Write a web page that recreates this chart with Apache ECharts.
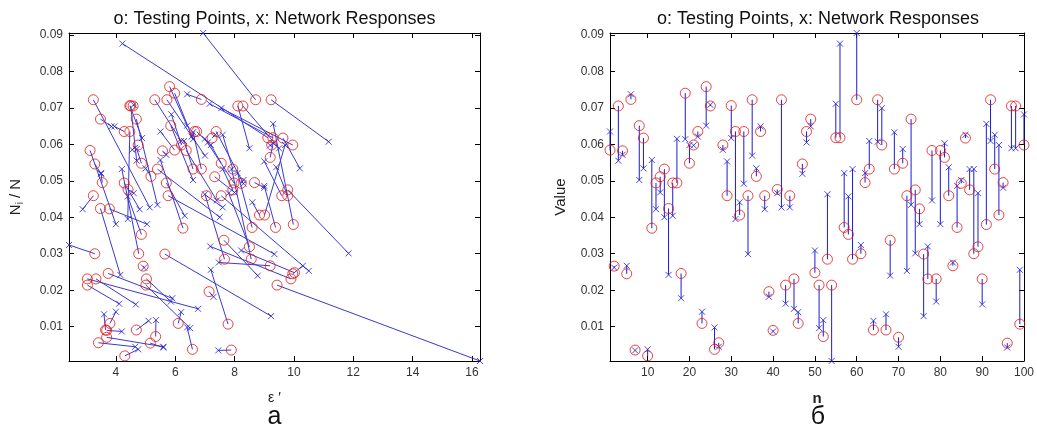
<!DOCTYPE html>
<html>
<head>
<meta charset="utf-8">
<script src="https://cdn.jsdelivr.net/npm/echarts@6/dist/echarts.min.js"></script>
<style>
  html, body { margin: 0; padding: 0; background: #fff; }
  #chart { width: 1037px; height: 432px; }
</style>
</head>
<body>
<div id="chart"></div>
<script>
// Sample index of each testing point
const sampleIndex = [
  1, 2, 3, 4, 5, 6, 7, 8, 9, 10, 11, 12, 13, 14, 15, 16, 17, 18, 19, 20,
  21, 22, 23, 24, 25, 26, 27, 28, 29, 30, 31, 32, 33, 34, 35, 36, 37, 38, 39, 40,
  41, 42, 43, 44, 45, 46, 47, 48, 49, 50, 51, 52, 53, 54, 55, 56, 57, 58, 59, 60,
  61, 62, 63, 64, 65, 66, 67, 68, 69, 70, 71, 72, 73, 74, 75, 76, 77, 78, 79, 80,
  81, 82, 83, 84, 85, 86, 87, 88, 89, 90, 91, 92, 93, 94, 95, 96, 97, 98, 99, 100
];

// Ni/N of the testing points (o)
const testValue = [
  0.0584, 0.0266, 0.0705, 0.0582, 0.0245, 0.0723, 0.0036, 0.0651, 0.0617, 0.0020,
  0.0370, 0.0494, 0.0511, 0.0532, 0.0424, 0.0494, 0.0494, 0.0246, 0.0740, 0.0548,
  0.0598, 0.0635, 0.0109, 0.0758, 0.0705, 0.0038, 0.0056, 0.0598, 0.0459, 0.0706,
  0.0635, 0.0406, 0.0635, 0.0459, 0.0722, 0.0512, 0.0635, 0.0459, 0.0196, 0.0090,
  0.0476, 0.0722, 0.0214, 0.0459, 0.0231, 0.0109, 0.0546, 0.0635, 0.0669, 0.0248,
  0.0214, 0.0073, 0.0285, 0.0214, 0.0618, 0.0618, 0.0372, 0.0353, 0.0285, 0.0722,
  0.0300, 0.0495, 0.0532, 0.0091, 0.0722, 0.0598, 0.0091, 0.0337, 0.0532, 0.0071,
  0.0548, 0.0459, 0.0669, 0.0475, 0.0423, 0.0299, 0.0231, 0.0583, 0.0231, 0.0583,
  0.0564, 0.0459, 0.0267, 0.0372, 0.0493, 0.0617, 0.0475, 0.0300, 0.0319, 0.0231,
  0.0380, 0.0722, 0.0532, 0.0406, 0.0495, 0.0055, 0.0705, 0.0705, 0.0107, 0.0598
];

// Ni/N given by the network (x)
const netValue = [
  0.0635, 0.0262, 0.0555, 0.0571, 0.0267, 0.0737, 0.0035, 0.0502, 0.0534, 0.0038,
  0.0557, 0.0422, 0.0468, 0.0400, 0.0242, 0.0404, 0.0615, 0.0178, 0.0614, 0.0598,
  0.0597, 0.0621, 0.0141, 0.0651, 0.0708, 0.0098, 0.0045, 0.0585, 0.0553, 0.0617,
  0.0395, 0.0441, 0.0492, 0.0299, 0.0569, 0.0534, 0.0649, 0.0422, 0.0182, 0.0087,
  0.0466, 0.0427, 0.0163, 0.0427, 0.0149, 0.0140, 0.0519, 0.0605, 0.0649, 0.0309,
  0.0096, 0.0118, 0.0463, 0.0006, 0.0711, 0.0876, 0.0521, 0.0457, 0.0532, 0.0905,
  0.0324, 0.0521, 0.0609, 0.0116, 0.0607, 0.0699, 0.0134, 0.0240, 0.0633, 0.0045,
  0.0587, 0.0253, 0.0434, 0.0301, 0.0381, 0.0129, 0.0320, 0.0446, 0.0169, 0.0381,
  0.0603, 0.0537, 0.0276, 0.0486, 0.0502, 0.0626, 0.0532, 0.0532, 0.0466, 0.0161,
  0.0656, 0.0609, 0.0626, 0.0598, 0.0481, 0.0043, 0.0589, 0.0589, 0.0256, 0.0682
];

// eps' of the testing points (o)
const testEps = [
  5.98, 4.92, 4.50, 5.57, 9.96, 6.88, 7.89, 5.85, 9.63, 4.30,
  6.26, 4.28, 7.33, 5.40, 3.48, 5.70, 7.98, 3.74, 5.98, 7.55,
  9.25, 6.65, 3.80, 5.81, 4.58, 6.58, 3.41, 4.75, 9.59, 4.47,
  4.47, 8.84, 7.38, 5.76, 5.72, 5.18, 4.28, 3.24, 7.14, 3.69,
  4.41, 3.24, 3.04, 7.05, 3.04, 6.10, 3.29, 6.72, 3.48, 10.02,
  5.01, 5.34, 7.66, 9.43, 9.29, 9.12, 8.59, 4.86, 8.56, 8.71,
  3.29, 3.54, 6.60, 4.69, 9.23, 9.96, 3.65, 7.64, 6.88, 3.69,
  4.86, 7.55, 4.69, 9.79, 3.78, 5.65, 9.90, 6.37, 5.03, 3.13,
  9.20, 9.79, 9.20, 9.38, 8.22, 7.24, 7.94, 4.77, 8.50, 3.33,
  9.98, 5.31, 7.94, 9.01, 8.67, 5.16, 8.11, 8.28, 7.78, 6.21
];

// eps' given by the network (x)
const netEps = [
  5.50, 4.95, 4.70, 5.70, 10.30, 6.40, 7.45, 6.60, 10.20, 4.75,
  5.50, 4.80, 8.00, 7.50, 4.15, 6.32, 7.00, 5.90, 6.60, 7.20,
  9.20, 6.55, 4.00, 6.40, 4.60, 6.40, 4.65, 4.55, 9.00, 4.88,
  4.40, 8.60, 8.30, 9.34, 7.00, 5.00, 3.95, 2.88, 7.29, 4.20,
  4.60, 5.14, 4.11, 7.60, 6.77, 6.20, 3.50, 7.10, 3.85, 8.22,
  6.50, 5.35, 7.00, 16.27, 7.16, 4.22, 8.10, 4.40, 7.90, 6.94,
  2.42, 3.50, 6.30, 5.10, 11.17, 7.55, 3.60, 8.78, 6.60, 5.60,
  4.70, 10.50, 5.40, 11.84, 5.05, 9.23, 7.18, 7.40, 5.85, 4.00,
  9.30, 9.40, 7.47, 9.00, 8.30, 7.35, 7.60, 4.20, 7.80, 4.67,
  9.30, 6.20, 7.60, 9.70, 9.00, 5.60, 8.50, 9.50, 7.20, 5.87
];

// Tick labels
const epsTicks = [4, 6, 8, 10, 12, 14, 16];
const nTicks = [10, 20, 30, 40, 50, 60, 70, 80, 90, 100];
const valueTicks = [0.01, 0.02, 0.03, 0.04, 0.05, 0.06, 0.07, 0.08, 0.09];

// Axis limits (tight to the data)
const epsRange = [2.42, 16.27];
const nRange = [1, 100];
const valueRange = [0.0006, 0.0905];

const RED = '#e01818';
const BLUE = '#1c1cd6';
const LINE_BLUE = '#3a3ad0';
const FONT = '"Liberation Sans", Arial, Helvetica, sans-serif';

const chart = echarts.init(document.getElementById('chart'), null, { renderer: 'canvas' });

function frameAxis(gridIndex, pos, range, ticks, showLabels, extra) {
  const ax = {
    type: 'value',
    gridIndex: gridIndex,
    position: pos,
    min: range[0],
    max: range[1],
    axisLine: { show: true, onZero: false, lineStyle: { color: '#000', width: 1 } },
    axisTick: { show: true, inside: true, length: 5, customValues: ticks, lineStyle: { color: '#000' } },
    axisLabel: {
      show: showLabels,
      customValues: ticks,
      color: '#333',
      fontSize: 12,
      fontFamily: FONT,
      margin: 6,
      formatter: v => String(Math.round(v * 1000) / 1000)
    },
    splitLine: { show: false }
  };
  return Object.assign(ax, extra || {});
}

const xAxes = [
  frameAxis(0, 'bottom', epsRange, epsTicks, true, {
    name: 'ε \u2032', nameLocation: 'middle', nameGap: 30,
    nameTextStyle: { fontSize: 14, color: '#222', fontFamily: FONT }
  }),
  frameAxis(0, 'top', epsRange, epsTicks, false),
  frameAxis(1, 'bottom', nRange, nTicks, true, {
    name: 'n', nameLocation: 'middle', nameGap: 30,
    nameTextStyle: { fontSize: 15, fontWeight: 'bold', color: '#222', fontFamily: FONT }
  }),
  frameAxis(1, 'top', nRange, nTicks, false)
];

const yAxes = [
  frameAxis(0, 'left', valueRange, valueTicks, true, {
    name: '{n|N}{s|i}{n| / N}', nameLocation: 'middle', nameGap: 44,
    nameTextStyle: {
      rich: {
        n: { fontSize: 15, color: '#222', fontFamily: FONT, lineHeight: 18 },
        s: { fontSize: 10, color: '#222', fontFamily: FONT, verticalAlign: 'bottom', lineHeight: 18, padding: [8, 0, 0, 0] }
      }
    }
  }),
  frameAxis(0, 'right', valueRange, valueTicks, false),
  frameAxis(1, 'left', valueRange, valueTicks, true, {
    name: 'Value', nameLocation: 'middle', nameGap: 42,
    nameTextStyle: { fontSize: 15, color: '#222', fontFamily: FONT }
  }),
  frameAxis(1, 'right', valueRange, valueTicks, false)
];

// Paired records: [eps test, value test, eps net, value net] and [n, value test, n, value net]
const epsPairs = sampleIndex.map((_, i) => [testEps[i], testValue[i], netEps[i], netValue[i]]);
const indexPairs = sampleIndex.map((n, i) => [n, testValue[i], n, netValue[i]]);

function segmentItem(color) {
  return function (params, api) {
    const a = api.coord([api.value(0), api.value(1)]);
    const b = api.coord([api.value(2), api.value(3)]);
    return {
      type: 'line',
      shape: { x1: a[0], y1: a[1], x2: b[0], y2: b[1] },
      style: { stroke: color, lineWidth: 1 }
    };
  };
}

const crossSymbol = 'path://M0,0L10,10M10,0L0,10';

const series = [
  {
    type: 'custom', xAxisIndex: 0, yAxisIndex: 0, silent: true,
    data: epsPairs, encode: { x: [0, 2], y: [1, 3] },
    renderItem: segmentItem(LINE_BLUE), z: 1
  },
  {
    type: 'scatter', xAxisIndex: 0, yAxisIndex: 0, silent: true,
    data: sampleIndex.map((_, i) => [netEps[i], netValue[i]]),
    symbol: crossSymbol, symbolSize: 6,
    itemStyle: { color: 'rgba(0,0,0,0)', borderColor: BLUE, borderWidth: 1 }, z: 2
  },
  {
    type: 'scatter', xAxisIndex: 0, yAxisIndex: 0, silent: true,
    data: sampleIndex.map((_, i) => [testEps[i], testValue[i]]),
    symbol: 'circle', symbolSize: 10,
    itemStyle: { color: 'rgba(0,0,0,0)', borderColor: RED, borderWidth: 1 }, z: 3
  },
  {
    type: 'custom', xAxisIndex: 2, yAxisIndex: 2, silent: true,
    data: indexPairs, encode: { x: [0, 2], y: [1, 3] },
    renderItem: segmentItem(BLUE), z: 1
  },
  {
    type: 'scatter', xAxisIndex: 2, yAxisIndex: 2, silent: true,
    data: sampleIndex.map((n, i) => [n, netValue[i]]),
    symbol: crossSymbol, symbolSize: 6,
    itemStyle: { color: 'rgba(0,0,0,0)', borderColor: BLUE, borderWidth: 1 }, z: 2
  },
  {
    type: 'scatter', xAxisIndex: 2, yAxisIndex: 2, silent: true,
    data: sampleIndex.map((n, i) => [n, testValue[i]]),
    symbol: 'circle', symbolSize: 10,
    itemStyle: { color: 'rgba(0,0,0,0)', borderColor: RED, borderWidth: 1 }, z: 3
  }
];

const titleText = 'o: Testing Points, x: Network Responses';

chart.setOption({
  animation: false,
  backgroundColor: '#fff',
  grid: [
    { left: 69, top: 33, width: 411, height: 328 },
    { left: 610, top: 33, width: 416, height: 328 }
  ],
  xAxis: xAxes,
  yAxis: yAxes,
  series: series,
  graphic: [
    { type: 'text', x: 274.5, y: 19, style: { text: titleText, font: '18px ' + FONT, fill: '#111', align: 'center', verticalAlign: 'middle' } },
    { type: 'text', x: 818, y: 19, style: { text: titleText, font: '18px ' + FONT, fill: '#111', align: 'center', verticalAlign: 'middle' } },
    { type: 'text', x: 274.5, y: 417, style: { text: 'а', font: '25px ' + FONT, fill: '#111', align: 'center', verticalAlign: 'middle' } },
    { type: 'text', x: 818, y: 417, style: { text: 'б', font: '25px ' + FONT, fill: '#111', align: 'center', verticalAlign: 'middle' } }
  ]
});
</script>
</body>
</html>
